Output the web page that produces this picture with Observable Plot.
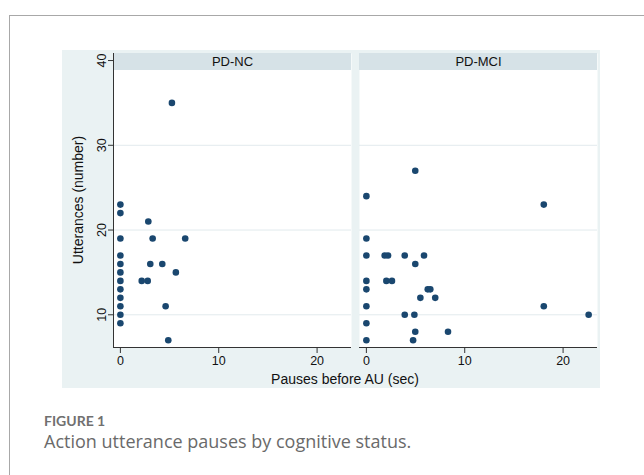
<!DOCTYPE html>
<html><head><meta charset="utf-8">
<script src="https://cdn.jsdelivr.net/npm/d3@7"></script>
<script src="https://cdn.jsdelivr.net/npm/@observablehq/plot@0.6"></script>
<style>
html,body{margin:0;padding:0;background:#fff;}
#page{position:relative;width:644px;height:475px;overflow:hidden;}
#frame{position:absolute;left:9px;top:15px;width:700px;height:500px;border-top:1px solid #a8a8a8;border-left:1px solid #a8a8a8;}
#bg{position:absolute;left:62px;top:50px;width:538px;height:338px;background:#eaf2f3;}
#chart{position:absolute;left:0;top:0;}
.ytitle{position:absolute;left:77.5px;top:200px;transform:translate(-50%,-50%) rotate(-90deg);font:14px "Liberation Sans",Arial,sans-serif;line-height:14px;white-space:nowrap;color:#111;}
.xtitle{position:absolute;left:345px;top:372px;transform:translateX(-50%);font:14px "Liberation Sans",Arial,sans-serif;line-height:14px;white-space:nowrap;color:#111;}
.fig{position:absolute;left:44px;top:412px;font:bold 14px Lato,sans-serif;color:#707070;white-space:nowrap;}
.cap{position:absolute;left:44px;top:429px;font:18px "Open Sans",sans-serif;color:#6a6a6a;white-space:nowrap;}
</style>
</head><body>
<div id="page">
  <div id="frame"></div>
  <div id="bg"></div>
  <div id="chart"></div>
  <div class="ytitle">Utterances (number)</div>
  <div class="xtitle">Pauses before AU (sec)</div>
  <div class="fig">FIGURE 1</div>
  <div class="cap">Action utterance pauses by cognitive status.</div>
</div>
<script>
const panels = ["PD-NC", "PD-MCI"];
const ncPause = [0,0,0,0,0,0,0,0,0,0,0,0, 2.84,3.28,6.59,3.04,4.26,5.64,2.17,2.78,4.6,4.87,5.24];
const ncUtt   = [23,22,19,17,16,15,14,13,12,11,10,9, 21,19,19,16,16,15,14,14,11,7,35];
const mciPause = [0,0,0,0,0,0,0,0, 1.86,2.2,3.9,5.86,4.97,2.03,2.6,6.24,6.5,5.49,7.0,18.04,3.9,4.88,22.6,4.97,8.3,4.75,18.04,4.97];
const mciUtt   = [24,19,17,14,13,11,9,7, 17,17,17,17,16,14,14,13,13,12,12,11,10,10,10,8,8,7,23,27];
const xTicks = [0, 10, 20];
const yTicks = [10, 20, 30, 40];

const points = [
  ...ncPause.map((p, i) => ({panel: "PD-NC", pause: p, utt: ncUtt[i]})),
  ...mciPause.map((p, i) => ({panel: "PD-MCI", pause: p, utt: mciUtt[i]}))
];
const xDomain = [-0.7, 23.5];
const yDomain = [6.14, 40.83];
const stripLow = yDomain[1] - (yDomain[1] - yDomain[0]) * 17 / 294;

const chart = Plot.plot({
  width: 644, height: 400,
  marginTop: 53, marginBottom: 53, marginLeft: 113, marginRight: 46,
  style: {background: "transparent", fontFamily: '"Liberation Sans", Arial, sans-serif', fontSize: "12.5px", color: "#111", overflow: "visible"},
  fx: {domain: panels, paddingInner: 8 / 246.5, paddingOuter: 0, axis: null, label: null},
  x: {domain: xDomain},
  y: {domain: yDomain},
  marks: [
    Plot.frame({fill: "white", stroke: null}),
    Plot.gridY(yTicks.slice(0, 3), {stroke: "#e2eaed", strokeOpacity: 1}),
    Plot.rect(panels, {fx: d => d, x1: () => xDomain[0], x2: () => xDomain[1], y1: () => stripLow, y2: () => yDomain[1], fill: "#d6e2e7"}),
    Plot.text(panels, {fx: d => d, text: d => d, frameAnchor: "top", lineAnchor: "middle", dy: 8, fontSize: 13, fill: "#111"}),
    Plot.dot(points, {fx: "panel", x: "pause", y: "utt", r: 3.3, fill: "#1a476f", stroke: null}),
    Plot.ruleY(panels, {fx: d => d, y: () => yDomain[0], stroke: "#333"}),
    Plot.ruleX(["PD-NC"], {fx: d => d, x: () => xDomain[0], stroke: "#333"}),
    Plot.axisX({ticks: xTicks, tickSize: 6, tickPadding: 3, label: null, stroke: "#333"}),
    Plot.axisY({ticks: yTicks, tickSize: 5, tickPadding: 3, tickRotate: -90, label: null, stroke: "#333"})
  ]
});
document.getElementById("chart").appendChild(chart);
</script>
</body></html>
